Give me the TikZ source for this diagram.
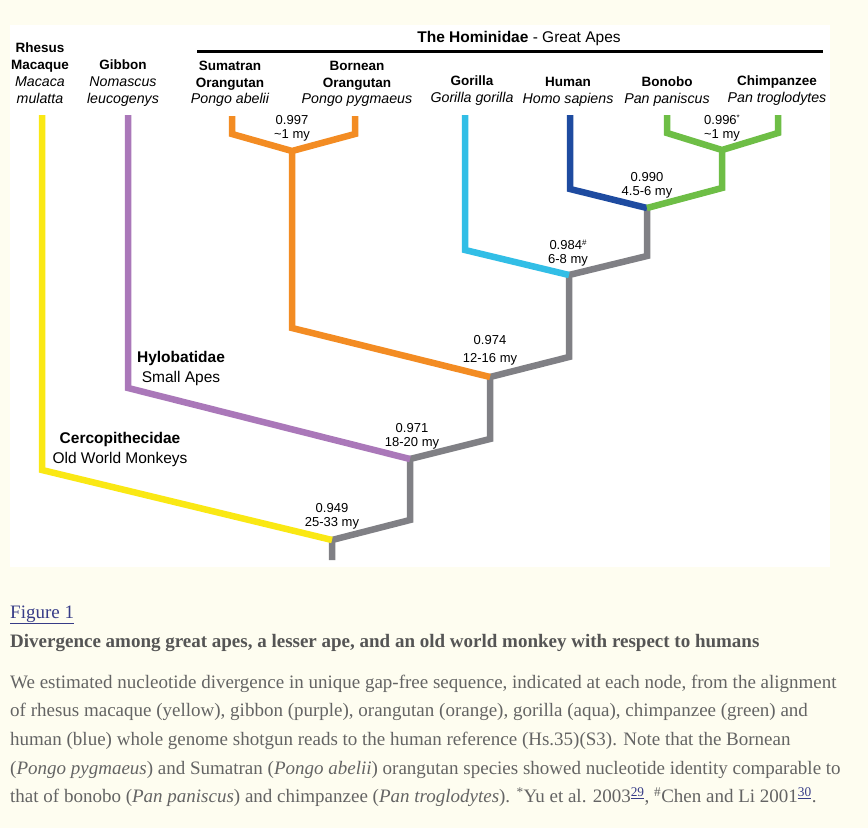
\documentclass[tikz,border=0pt]{standalone}
\usepackage{fontspec}
\setmainfont{Liberation Serif}
\newfontfamily\arialf{Liberation Sans}
\definecolor{bgcream}{RGB}{254,253,240}
\definecolor{cyel}{RGB}{250,232,20}
\definecolor{cpur}{RGB}{170,120,185}
\definecolor{cora}{RGB}{243,140,35}
\definecolor{caqu}{RGB}{50,190,230}
\definecolor{cblu}{RGB}{30,75,160}
\definecolor{cgre}{RGB}{110,190,70}
\definecolor{cgry}{RGB}{128,128,133}
\definecolor{linkblue}{RGB}{55,60,135}
\definecolor{headgray}{RGB}{85,85,85}
\definecolor{bodygray}{RGB}{100,100,100}
\newcommand{\latn}[1]{{\fontsize{14.2}{16.5}\selectfont\mdseries\itshape #1}}
\newcommand{\supmark}[1]{\raisebox{4pt}{\fontsize{8}{8}\selectfont #1}}
\begin{document}
\begin{tikzpicture}[x=1pt,y=-1pt,
  branch/.style={line width=6.5pt,line join=miter,line cap=butt},
  species/.style={font=\arialf\fontsize{13.5}{16.5}\selectfont\bfseries,align=center,anchor=base,inner sep=0pt},
  val/.style={font=\arialf\fontsize{13}{14}\selectfont,align=center,anchor=base,inner sep=0pt},
  clade/.style={font=\arialf\fontsize{15.5}{20}\selectfont,align=center,anchor=base,inner sep=0pt},
  captxt/.style={font=\fontsize{19}{22}\selectfont,anchor=base west,inner sep=0pt,text=bodygray}]
\useasboundingbox (0,0) rectangle (868,828);
\fill[bgcream] (0,0) rectangle (868,828);
\fill[white] (10,25) rectangle (830,567);

% title and bar
\node[font=\arialf\fontsize{15.5}{18}\selectfont,anchor=base,inner sep=0pt] (title) at (519,42) {\textbf{The Hominidae} - Great Apes};
\coordinate (barL) at (197,51);
\coordinate (barR) at (823,51);
\draw[line width=3pt] (barL) -- (barR);

% species labels (anchored at baseline of last line)
\node[species] (mac) at (40,103) {Rhesus\\Macaque\\[1pt]\latn{Macaca}\\\latn{mulatta}};
\node[species] (gib) at (123,103) {Gibbon\\[1pt]\latn{Nomascus}\\\latn{leucogenys}};
\node[species] (sum) at (230,103) {Sumatran\\Orangutan\\[-0.5pt]\latn{Pongo abelii}};
\node[species] (bor) at (357,103) {Bornean\\Orangutan\\[-0.5pt]\latn{Pongo pygmaeus}};
\node[species] (gor) at (472,102) {Gorilla\\\latn{Gorilla gorilla}};
\node[species] (hum) at (568,103) {Human\\\latn{Homo sapiens}};
\node[species] (bon) at (667,103) {Bonobo\\\latn{Pan paniscus}};
\node[species] (chi) at (777,102) {Chimpanzee\\\latn{Pan troglodytes}};

% tree coordinates
\coordinate (macT) at (42,115);  \coordinate (macC) at (42,470);
\coordinate (gibT) at (128,115); \coordinate (gibC) at (128,388);
\coordinate (sumT) at (232,116); \coordinate (sumC) at (232,134);
\coordinate (borT) at (355,116); \coordinate (borC) at (355,134);
\coordinate (oraJ) at (292,151); \coordinate (oraC) at (292,328);
\coordinate (gorT) at (465,115); \coordinate (gorC) at (465,250);
\coordinate (humT) at (570,115); \coordinate (humC) at (570,189);
\coordinate (bonT) at (667,115); \coordinate (bonC) at (667,133);
\coordinate (chiT) at (778,115); \coordinate (chiC) at (778,133);
\coordinate (panJ) at (722,150); \coordinate (panC) at (722,188);
\coordinate (n1) at (332,540); \coordinate (root) at (332,560);
\coordinate (n2) at (410,459); \coordinate (g12) at (410,520);
\coordinate (n3) at (490,377); \coordinate (g23) at (490,439);
\coordinate (n4) at (569,275); \coordinate (g34) at (569,357);
\coordinate (n5) at (647,208); \coordinate (g45) at (647,256);

% gray backbone
\draw[branch,cgry] (root) -- (n1) -- (g12) -- (n2) -- (g23) -- (n3) -- (g34) -- (n4) -- (g45) -- (n5);
% colored branches
\draw[branch,cyel] (macT) -- (macC) -- (n1);
\draw[branch,cpur] (gibT) -- (gibC) -- (n2);
\draw[branch,cora] (sumT) -- (sumC) -- (oraJ) -- (borC) -- (borT);
\draw[branch,cora] (oraJ) -- (oraC) -- (n3);
\draw[branch,caqu] (gorT) -- (gorC) -- (n4);
\draw[branch,cblu] (humT) -- (humC) -- (n5);
\draw[branch,cgre] (bonT) -- (bonC) -- (panJ) -- (chiC) -- (chiT);
\draw[branch,cgre] (panJ) -- (panC) -- (n5);

% node values (anchored at baseline of last line)
\node[val] (v1) at (292,138) {0.997\\\textasciitilde1 my};
\node[val] (v2) at (722,138) {0.996\supmark{*}\\\textasciitilde1 my};
\node[val] (v3) at (647,195) {0.990\\4.5-6 my};
\node[val] (v4) at (568,263) {0.984\supmark{\#}\\6-8 my};
\node[val] (v5) at (490,362) {0.974\\[4pt]12-16 my};
\node[val] (v6) at (412,446) {0.971\\18-20 my};
\node[val] (v7) at (332,526) {0.949\\25-33 my};

% clade labels
\node[clade] (hyl) at (181,382) {\textbf{Hylobatidae}\\Small Apes};
\node[clade] (cer) at (120,463) {\textbf{Cercopithecidae}\\Old World Monkeys};

% caption
\node[captxt,text=linkblue] (fig) at (10,618) {\underline{Figure 1}};
\node[captxt,text=headgray] (head) at (10,647) {\textbf{Divergence among great apes, a lesser ape, and an old world monkey with respect to humans}};
\node[captxt] (l1) at (10,688) {We estimated nucleotide divergence in unique gap-free sequence, indicated at each node, from the alignment};
\node[captxt] (l2) at (10,716.5) {of rhesus macaque (yellow), gibbon (purple), orangutan (orange), gorilla (aqua), chimpanzee (green) and};
\node[captxt] (l3) at (10,745) {human (blue) whole genome shotgun reads to the human reference (Hs.35)(S3). Note that the Bornean};
\node[captxt] (l4) at (10,774) {(\textit{Pongo pygmaeus}) and Sumatran (\textit{Pongo abelii}) orangutan species showed nucleotide identity comparable to};
\node[captxt] (l5) at (10,802.5) {that of bonobo (\textit{Pan paniscus}) and chimpanzee (\textit{Pan troglodytes}). \textsuperscript{*}Yu et al. 2003\textsuperscript{\textcolor{linkblue}{\underline{29}}}, \textsuperscript{\#}Chen and Li 2001\textsuperscript{\textcolor{linkblue}{\underline{30}}}.};
\end{tikzpicture}
\end{document}
